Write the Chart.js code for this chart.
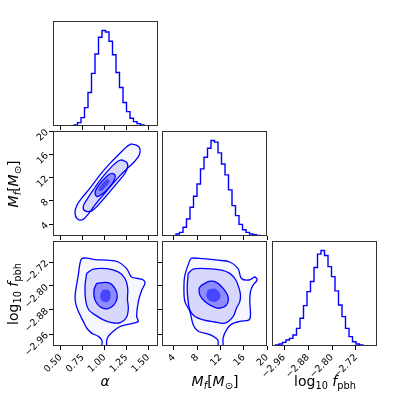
<!DOCTYPE html>
<html>
<head>
<meta charset="utf-8">
<script src="https://cdn.jsdelivr.net/npm/chart.js@4.4.1/dist/chart.umd.min.js"></script>
<style>
html, body { margin: 0; padding: 0; background: #fff; }
#fig { position: relative; width: 399px; height: 399px; overflow: hidden; font-family: 'DejaVu Sans', sans-serif; }
canvas { position: absolute; }
.lab { position: absolute; font-size: 14px; white-space: nowrap; transform: translate(-50%, -50%); color: #000; line-height: 1; }
.lab sub { font-size: 70%; vertical-align: -0.3em; line-height: 0; }
.rot { transform: translate(-50%, -50%) rotate(-90deg); }
</style>
</head>
<body>
<div id="fig">
  <canvas id="h0"></canvas>
  <canvas id="am"></canvas>
  <canvas id="hm"></canvas>
  <canvas id="af"></canvas>
  <canvas id="mf"></canvas>
  <canvas id="hf"></canvas>
  <div class="lab" style="left:105px;top:381px;"><i>α</i></div>
  <div class="lab" style="left:215px;top:381px;"><i>M</i><sub><i>f</i></sub>[<i>M</i><sub>⊙</sub>]</div>
  <div class="lab" style="left:325px;top:381px;">log<sub>10</sub> <i>f</i><sub>pbh</sub></div>
  <div class="lab rot" style="left:13px;top:184px;"><i>M</i><sub><i>f</i></sub>[<i>M</i><sub>⊙</sub>]</div>
  <div class="lab rot" style="left:13px;top:294px;">log<sub>10</sub> <i>f</i><sub>pbh</sub></div>
</div>
<script>
// axis ranges and ticks
var alphaRange = [0.411, 1.611];
var massRange = [1.95, 20];
var logfRange = [-3.0, -2.65];
var alphaTicks = [0.5, 0.75, 1.0, 1.25, 1.5];
var massTicks = [4, 8, 12, 16, 20];
var logfTicks = [-2.96, -2.88, -2.80, -2.72];

// 1d histograms, 30 bins over each range
var alphaCounts = [0,0,0,0,0,0,10,35,88,193,351,551,754,930,1000,985,888,747,561,403,246,151,81,46,25,10,3,0,0,0];
var massCounts = [0,0,0,3,21,38,91,178,301,416,545,703,825,920,1000,983,871,755,640,483,318,213,122,66,38,21,14,7,3,1];
var logfCounts = [3,10,21,38,63,80,115,185,290,423,570,675,822,962,1000,948,832,727,577,430,308,185,98,45,21,10,3,1,0,0];

// contours alpha vs M_f
var amOuter = [[1.302,17.77],[1.374,17.48],[1.405,16.91],[1.397,15.88],[1.348,14.85],[1.271,13.70],[1.176,12.33],[1.082,10.74],[0.986,9.02],[0.891,7.31],[0.814,5.71],[0.750,4.75],[0.689,4.91],[0.662,5.88],[0.682,7.14],[0.739,8.46],[0.834,10.17],[0.948,12.45],[1.062,14.43],[1.176,16.17],[1.253,17.31],[1.302,17.77]];
var amMid = [[1.196,15.03],[1.253,14.63],[1.265,13.88],[1.234,12.74],[1.157,11.30],[1.062,9.59],[0.948,7.60],[0.853,6.28],[0.777,6.28],[0.757,7.02],[0.796,8.16],[0.871,9.88],[0.967,11.89],[1.082,13.88],[1.157,14.85],[1.196,15.03]];
var amInner = [[1.082,12.74],[1.120,12.45],[1.112,11.59],[1.062,10.45],[0.986,9.31],[0.917,8.73],[0.891,9.31],[0.911,10.17],[0.967,11.30],[1.043,12.45],[1.082,12.74]];
var amCore = [[1.03,11.8],[1.06,11.4],[1.02,10.5],[0.96,9.7],[0.93,9.9],[0.97,10.9],[1.03,11.8]];

// contours alpha vs log10 f
var afOuter = [[0.967,-3.0],[0.971,-2.982],[0.929,-2.968],[0.853,-2.957],[0.796,-2.940],[0.757,-2.918],[0.711,-2.891],[0.674,-2.863],[0.663,-2.836],[0.674,-2.808],[0.700,-2.764],[0.719,-2.725],[0.739,-2.709],[0.796,-2.707],[0.891,-2.712],[1.025,-2.714],[1.157,-2.720],[1.253,-2.742],[1.310,-2.770],[1.386,-2.775],[1.443,-2.780],[1.462,-2.791],[1.425,-2.814],[1.386,-2.852],[1.367,-2.902],[1.386,-2.918],[1.329,-2.924],[1.253,-2.929],[1.177,-2.935],[1.100,-2.951],[1.043,-2.968],[1.025,-2.982],[1.025,-3.0]];
var afMid = [[0.796,-2.758],[0.871,-2.744],[1.025,-2.742],[1.157,-2.753],[1.234,-2.775],[1.265,-2.808],[1.262,-2.845],[1.272,-2.875],[1.250,-2.905],[1.180,-2.922],[1.080,-2.922],[0.980,-2.912],[0.900,-2.898],[0.820,-2.880],[0.785,-2.850],[0.777,-2.800],[0.796,-2.758]];
var afInner = [[0.910,-2.791],[1.043,-2.789],[1.119,-2.808],[1.146,-2.836],[1.108,-2.863],[1.031,-2.876],[0.948,-2.869],[0.891,-2.847],[0.879,-2.814],[0.910,-2.791]];
var afCore = [[0.98,-2.812],[1.05,-2.814],[1.07,-2.835],[1.04,-2.852],[0.97,-2.850],[0.95,-2.830],[0.98,-2.812]];

// contours M_f vs log10 f
var mfOuter = [[11.60,-3.0],[11.50,-2.979],[10.17,-2.962],[8.17,-2.951],[7.31,-2.929],[6.74,-2.885],[5.89,-2.852],[5.72,-2.808],[5.89,-2.764],[6.74,-2.714],[7.04,-2.707],[9.03,-2.709],[11.60,-2.714],[13.61,-2.720],[15.03,-2.742],[15.61,-2.775],[16.92,-2.780],[17.89,-2.770],[18.29,-2.780],[17.60,-2.797],[17.16,-2.819],[17.04,-2.852],[17.16,-2.896],[16.92,-2.913],[15.32,-2.918],[13.90,-2.927],[13.04,-2.946],[12.46,-2.973],[12.46,-3.0]];
var mfMid = [[6.45,-2.758],[7.31,-2.744],[9.61,-2.742],[12.18,-2.747],[13.61,-2.758],[14.63,-2.780],[15.20,-2.808],[15.44,-2.830],[15.32,-2.852],[14.75,-2.874],[14.17,-2.902],[12.75,-2.924],[11.03,-2.920],[9.03,-2.913],[7.60,-2.902],[6.74,-2.880],[6.45,-2.852],[6.28,-2.808],[6.45,-2.758]];
var mfInner = [[8.75,-2.797],[10.17,-2.784],[11.32,-2.788],[12.46,-2.808],[13.31,-2.836],[13.04,-2.863],[11.89,-2.874],[10.74,-2.869],[9.32,-2.852],[8.46,-2.830],[8.34,-2.808],[8.75,-2.797]];
var mfCore = [[9.8,-2.812],[11.2,-2.810],[12.0,-2.830],[11.6,-2.848],[10.4,-2.852],[9.6,-2.836],[9.8,-2.812]];

var colLeft = [53, 162, 272], rowTop = [21, 131, 241], size = 105;
var padL = 52, padT = 14, padR = 14, padB = 48;

var fmt2 = function(v) { return v.toFixed(2).replace('-', '\u2212'); };
var fmt0 = function(v) { return String(v); };

var framePlugin = {
  id: 'frame',
  afterDraw: function(chart) {
    var a = chart.chartArea, c = chart.ctx;
    c.save();
    c.strokeStyle = '#333';
    c.lineWidth = 1;
    c.strokeRect(Math.round(a.left) + 0.5, Math.round(a.top) + 0.5, Math.round(a.right - a.left) - 1, Math.round(a.bottom - a.top) - 1);
    c.restore();
  }
};

function histPoints(range, counts) {
  var w = (range[1] - range[0]) / counts.length;
  var pts = [{x: range[0], y: 0}];
  counts.forEach(function(c, i) { pts.push({x: range[0] + i * w, y: c}); });
  pts.push({x: range[1], y: counts[counts.length - 1]});
  pts.push({x: range[1], y: 0});
  return pts;
}

function toPts(arr) {
  return arr.map(function(p) { return {x: p[0], y: p[1]}; });
}

function contourSet(outer, mid, inner, core) {
  var ds = [{
    data: toPts(core), showLine: true, pointRadius: 0, tension: 0.4,
    borderColor: 'rgba(0,0,255,0)', borderWidth: 0, fill: 'shape', backgroundColor: 'rgba(0,0,255,0.5)'
  }];
  [[inner, 'rgba(0,0,255,0.35)'], [mid, 'rgba(0,0,255,0.13)'], [outer, 'rgba(0,0,255,0.03)']].forEach(function(s) {
    ds.push({
      data: toPts(s[0]), showLine: true, pointRadius: 0, tension: 0.35,
      borderColor: '#0000ff', borderWidth: 1.3, fill: 'shape', backgroundColor: s[1]
    });
  });
  return ds;
}

function axis(range, ticks, fmt, showLabels, isX) {
  return {
    type: 'linear',
    min: range[0],
    max: range[1],
    afterBuildTicks: function(s) { s.ticks = ticks.map(function(v) { return {value: v}; }); },
    afterFit: function(s) { if (isX) { s.height = padB; } else { s.width = padL; } },
    grid: { display: true, drawOnChartArea: false, drawTicks: true, tickLength: 4, color: '#000', lineWidth: 1 },
    border: { display: false },
    ticks: {
      display: showLabels, autoSkip: false, minRotation: 45, maxRotation: 45, padding: 2,
      color: '#000', font: { family: 'DejaVu Sans', size: 9.5 }, callback: fmt
    }
  };
}

function makePanel(id, col, row, xs, ys, datasets, yShown) {
  var cv = document.getElementById(id);
  var w = size + padL + padR, h = size + padT + padB;
  cv.width = w; cv.height = h;
  cv.style.width = w + 'px'; cv.style.height = h + 'px';
  cv.style.left = (colLeft[col] - padL) + 'px';
  cv.style.top = (rowTop[row] - padT) + 'px';
  return new Chart(cv, {
    type: 'scatter',
    data: { datasets: datasets },
    options: {
      responsive: false, animation: false, devicePixelRatio: 1,
      layout: { padding: { left: yShown ? 0 : padL, top: padT, right: padR, bottom: 0 } },
      plugins: { legend: { display: false }, tooltip: { enabled: false } },
      scales: { x: xs, y: ys }
    },
    plugins: [framePlugin]
  });
}

function histDataset(range, counts) {
  return [{
    data: histPoints(range, counts), showLine: true, stepped: true, pointRadius: 0,
    borderColor: '#0000ff', borderWidth: 1.4, fill: false
  }];
}

function histY(counts) {
  var m = Math.max.apply(null, counts) * 1.1;
  return { type: 'linear', display: false, min: 0, max: m };
}

// diagonal
makePanel('h0', 0, 0, axis(alphaRange, alphaTicks, fmt2, false, true), histY(alphaCounts), histDataset(alphaRange, alphaCounts), false);
makePanel('hm', 1, 1, axis(massRange, massTicks, fmt0, false, true), histY(massCounts), histDataset(massRange, massCounts), false);
makePanel('hf', 2, 2, axis(logfRange, logfTicks, fmt2, true, true), histY(logfCounts), histDataset(logfRange, logfCounts), false);

// 2d panels
makePanel('am', 0, 1, axis(alphaRange, alphaTicks, fmt2, false, true), axis(massRange, massTicks, fmt0, true, false), contourSet(amOuter, amMid, amInner, amCore), true);
makePanel('af', 0, 2, axis(alphaRange, alphaTicks, fmt2, true, true), axis(logfRange, logfTicks, fmt2, true, false), contourSet(afOuter, afMid, afInner, afCore), true);
makePanel('mf', 1, 2, axis(massRange, massTicks, fmt0, true, true), axis(logfRange, logfTicks, fmt2, false, false), contourSet(mfOuter, mfMid, mfInner, mfCore), true);
</script>
</body>
</html>
